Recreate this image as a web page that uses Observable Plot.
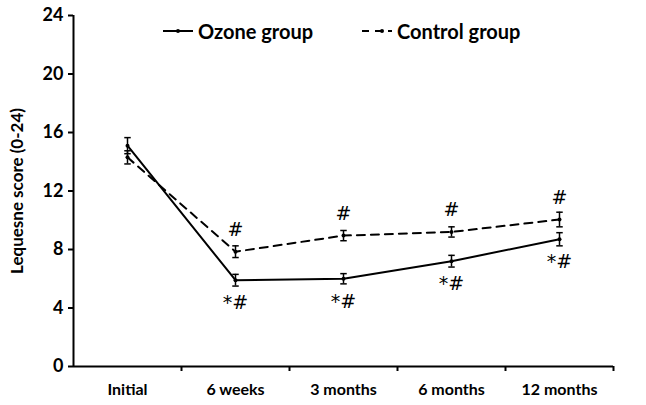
<!DOCTYPE html>
<html>
<head>
<meta charset="utf-8">
<script src="https://cdn.jsdelivr.net/npm/d3@7"></script>
<script src="https://cdn.jsdelivr.net/npm/@observablehq/plot@0.6"></script>
<style>
  body { margin: 0; background: #fff; }
  #wrap { position: relative; width: 646px; height: 405px; font-family: Lato, "Open Sans", sans-serif; }
  #legend { position: absolute; top: 19px; left: 0; width: 646px; height: 28px; }
  .lg { position: absolute; top: 0; display: flex; align-items: center; font-weight: bold; font-size: 20px; color: #000; }
  .lg svg { margin-right: 5px; }
</style>
</head>
<body>
<div id="wrap">
  <div id="chart"></div>
  <div id="legend">
    <div class="lg" style="left:163px"><svg width="30" height="10"><line x1="0" y1="5" x2="30" y2="5" stroke="#000" stroke-width="2"/><circle cx="15" cy="5" r="2" fill="#000"/></svg>Ozone group</div>
    <div class="lg" style="left:362px"><svg width="30" height="10"><line x1="0" y1="5" x2="30" y2="5" stroke="#000" stroke-width="2" stroke-dasharray="7,6"/><circle cx="20" cy="5" r="2" fill="#000"/></svg>Control group</div>
  </div>
</div>
<script>
const categories = ["Initial", "6 weeks", "3 months", "6 months", "12 months"];
const ozoneMean = [15.1, 5.9, 6.0, 7.2, 8.7];
const ozoneErr = [0.55, 0.4, 0.35, 0.4, 0.45];
const controlMean = [14.3, 7.85, 8.95, 9.2, 10.05];
const controlErr = [0.45, 0.4, 0.35, 0.35, 0.5];
const controlMarks = ["", "#", "#", "#", "#"];
const ozoneMarks = ["", "*#", "*#", "*#", "*#"];
const yTicks = [0, 4, 8, 12, 16, 20, 24];

const rows = [];
categories.forEach((c, i) => {
  rows.push({group: "Ozone", i: i + 0.5, mean: ozoneMean[i], err: ozoneErr[i], note: ozoneMarks[i]});
  rows.push({group: "Control", i: i + 0.5, mean: controlMean[i], err: controlErr[i], note: controlMarks[i]});
});
const oz = rows.filter(d => d.group === "Ozone");
const ct = rows.filter(d => d.group === "Control");
const capW = 0.03;

const chart = Plot.plot({
  width: 646,
  height: 405,
  marginLeft: 73,
  marginRight: 33,
  marginTop: 15,
  marginBottom: 39,
  style: {fontFamily: "Lato, 'Open Sans', sans-serif", fontSize: "15px", fontWeight: "bold", color: "#000", background: "#fff"},
  x: {domain: [0, categories.length], axis: null},
  y: {domain: [0, 24], axis: null},
  marks: [
    Plot.axisY({ticks: yTicks, tickSize: 5, tickPadding: 5, tickFormat: d => d, label: null, fontSize: 18, stroke: "#000", strokeWidth: 2}),
    Plot.text(["Lequesne score (0-24)"], {frameAnchor: "left", dx: -56, textAnchor: "middle", rotate: -90, fontSize: 17, fontWeight: "bold"}),
    Plot.axisX({ticks: d3.range(1, categories.length + 1), tickSize: 5, tickFormat: () => "", label: null, stroke: "#000", strokeWidth: 2}),
    Plot.axisX({ticks: d3.range(categories.length).map(i => i + 0.5), tickSize: 0, tickPadding: 17, label: null, tickFormat: d => categories[Math.floor(d)], fontSize: 16}),
    Plot.ruleX([0], {stroke: "#000", strokeWidth: 2}),
    Plot.ruleY([0], {stroke: "#000", strokeWidth: 2}),
    Plot.line(ct, {x: "i", y: "mean", stroke: "#000", strokeWidth: 2, strokeDasharray: "8,6"}),
    Plot.line(oz, {x: "i", y: "mean", stroke: "#000", strokeWidth: 2}),
    Plot.ruleX(rows, {x: "i", y1: d => d.mean - d.err, y2: d => d.mean + d.err, stroke: "#000", strokeWidth: 1.5}),
    Plot.link(rows, {x1: d => d.i - capW, x2: d => d.i + capW, y1: d => d.mean + d.err, y2: d => d.mean + d.err, stroke: "#000", strokeWidth: 1.5}),
    Plot.link(rows, {x1: d => d.i - capW, x2: d => d.i + capW, y1: d => d.mean - d.err, y2: d => d.mean - d.err, stroke: "#000", strokeWidth: 1.5}),
    Plot.dot(rows, {x: "i", y: "mean", r: 2, fill: "#000"}),
    Plot.text(ct, {x: "i", y: "mean", text: "note", dy: -22, fontSize: 19, fontWeight: "normal", fontFamily: "'DejaVu Sans', sans-serif"}),
    Plot.text(oz, {x: "i", y: "mean", text: "note", dy: 23, fontSize: 19, fontWeight: "normal", fontFamily: "'DejaVu Sans', sans-serif"})
  ]
});
document.getElementById("chart").appendChild(chart);
</script>
</body>
</html>
